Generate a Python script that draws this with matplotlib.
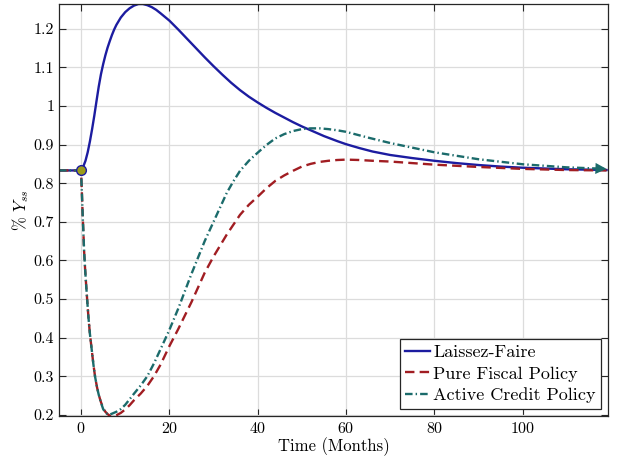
import numpy as np
import matplotlib; matplotlib.use("Agg"); import matplotlib.pyplot as plt

plt.rcParams.update({"font.family": "serif", "font.serif": ["cmr10"], "mathtext.fontset": "cm",
                     "axes.formatter.use_mathtext": True, "axes.unicode_minus": False})

# --- data (months, % of Y_ss) ---
t_lf = [-5, 0, 0.5, 1, 1.5, 2, 2.5, 3, 3.5, 4, 4.5, 5, 5.5, 6, 6.5, 7, 7.5, 8, 9, 10, 11, 12, 13, 14,
        15, 16, 17, 18, 20, 22, 24, 26, 28, 30, 32, 34, 36, 38, 40, 42, 44, 46, 48, 50, 52, 55, 58, 60,
        63, 66, 70, 75, 80, 85, 90, 95, 100, 105, 110, 115, 119]
y_lf = [0.833, 0.833, 0.843, 0.858, 0.880, 0.908, 0.940, 0.975, 1.013, 1.050, 1.082, 1.108, 1.131, 1.151,
        1.168, 1.184, 1.198, 1.210, 1.229, 1.243, 1.253, 1.260, 1.264, 1.264, 1.261, 1.256, 1.249, 1.240,
        1.221, 1.198, 1.174, 1.150, 1.126, 1.103, 1.081, 1.060, 1.041, 1.024, 1.009, 0.995, 0.982, 0.970,
        0.958, 0.947, 0.937, 0.922, 0.909, 0.901, 0.891, 0.882, 0.873, 0.865, 0.858, 0.852, 0.847, 0.843,
        0.840, 0.838, 0.836, 0.835, 0.834]

t_fp = [-5, 0, 0.1, 0.2, 0.38, 0.5, 0.68, 0.9, 1.13, 1.4, 1.66, 2, 2.42, 2.8, 3.17, 3.6, 4, 4.5, 5, 5.5,
        6, 6.5, 7, 7.5, 8, 9, 10, 11, 12, 13.5, 15, 16.5, 18, 20, 22, 25, 28, 30, 33, 36, 38, 40, 42, 44,
        46, 48, 50, 52, 54, 56, 58, 60, 63, 66, 70, 80, 90, 100, 110, 119]
y_fp = [0.833, 0.833, 0.80, 0.77, 0.712, 0.68, 0.626, 0.58, 0.540, 0.495, 0.454, 0.41, 0.368, 0.33, 0.299,
        0.272, 0.252, 0.233, 0.218, 0.208, 0.202, 0.198, 0.197, 0.197, 0.199, 0.205, 0.214, 0.225, 0.238,
        0.255, 0.275, 0.30, 0.33, 0.378, 0.422, 0.492, 0.568, 0.61, 0.667, 0.718, 0.744, 0.765, 0.787,
        0.806, 0.820, 0.832, 0.843, 0.850, 0.855, 0.858, 0.860, 0.861, 0.860, 0.858, 0.856, 0.848, 0.842,
        0.837, 0.834, 0.833]

t_cp = [-5, 0, 0.1, 0.2, 0.38, 0.5, 0.68, 0.9, 1.13, 1.4, 1.66, 2, 2.42, 2.8, 3.17, 3.6, 4, 4.5, 5, 5.5,
        6, 6.5, 7, 8, 9, 10, 12, 13.5, 15, 16.5, 18, 20, 22, 25, 28, 30, 33, 34.5, 36, 38, 40, 42, 44, 46,
        48, 50, 52, 54, 56, 58, 60, 65, 70, 80, 90, 100, 110, 119]
y_cp = [0.833, 0.833, 0.80, 0.77, 0.712, 0.68, 0.626, 0.58, 0.540, 0.495, 0.454, 0.41, 0.368, 0.33, 0.299,
        0.272, 0.252, 0.232, 0.215, 0.206, 0.202, 0.201, 0.203, 0.208, 0.215, 0.226, 0.255, 0.276, 0.30,
        0.333, 0.37, 0.42, 0.475, 0.565, 0.65, 0.70, 0.775, 0.805, 0.832, 0.858, 0.879, 0.899, 0.916,
        0.927, 0.935, 0.940, 0.942, 0.942, 0.940, 0.937, 0.933, 0.918, 0.904, 0.880, 0.862, 0.849, 0.841,
        0.837]

labels = ["Laissez-Faire", "Pure Fiscal Policy", "Active Credit Policy"]
BLUE, RED, TEAL = "#1c1ca0", "#a11d22", "#1b6b6b"

fig = plt.figure(figsize=(6.19, 4.61), dpi=100)
ax = fig.add_axes([0.0953, 0.0976, 0.8874, 0.8937])
ax.plot(t_lf, y_lf, "-", color=BLUE, lw=1.7, label=labels[0])
ax.plot(t_fp, y_fp, "--", color=RED, lw=1.7, dashes=(4, 2.2), label=labels[1])
ax.plot(t_cp, y_cp, "-.", color=TEAL, lw=1.7, dashes=(3.2, 1.3, 0.6, 1.3), label=labels[2])
ax.annotate("", xy=(t_cp[-1], y_cp[-1]), xytext=(t_cp[-2], y_cp[-2]),
            arrowprops=dict(arrowstyle="-|>", color=TEAL, lw=0, mutation_scale=20, shrinkA=0, shrinkB=0))
ax.plot([0], [y_lf[1]], "o", ms=7, mfc="#9c9c1a", mec=BLUE, mew=1.0, zorder=5)

ax.set_xlim(-5, 119.4); ax.set_ylim(0.197, 1.264)
ax.set_xticks([0, 20, 40, 60, 80, 100])
yt = [0.2, 0.3, 0.4, 0.5, 0.6, 0.7, 0.8, 0.9, 1.0, 1.1, 1.2]
ax.set_yticks(yt); ax.set_yticklabels(["1" if v == 1.0 else f"{v:.1f}" for v in yt])
ax.tick_params(direction="in", top=True, right=True, labelsize=11.5, length=5, color="#262626")
ax.grid(True, color="#dcdcdc", lw=0.9)
for s in ax.spines.values(): s.set_color("#262626"); s.set_linewidth(0.9)
ax.set_xlabel("Time (Months)", fontsize=12, labelpad=1)
ax.set_ylabel("% $Y_{ss}$", fontsize=12, labelpad=2)
leg = ax.legend(loc="lower right", fontsize=13, handlelength=1.4, handletextpad=0.15, borderpad=0.3,
                labelspacing=0.32, borderaxespad=0.4, fancybox=False, framealpha=1, edgecolor="#262626")
leg.get_frame().set_linewidth(0.9)
fig.savefig("out.png", dpi=100)
